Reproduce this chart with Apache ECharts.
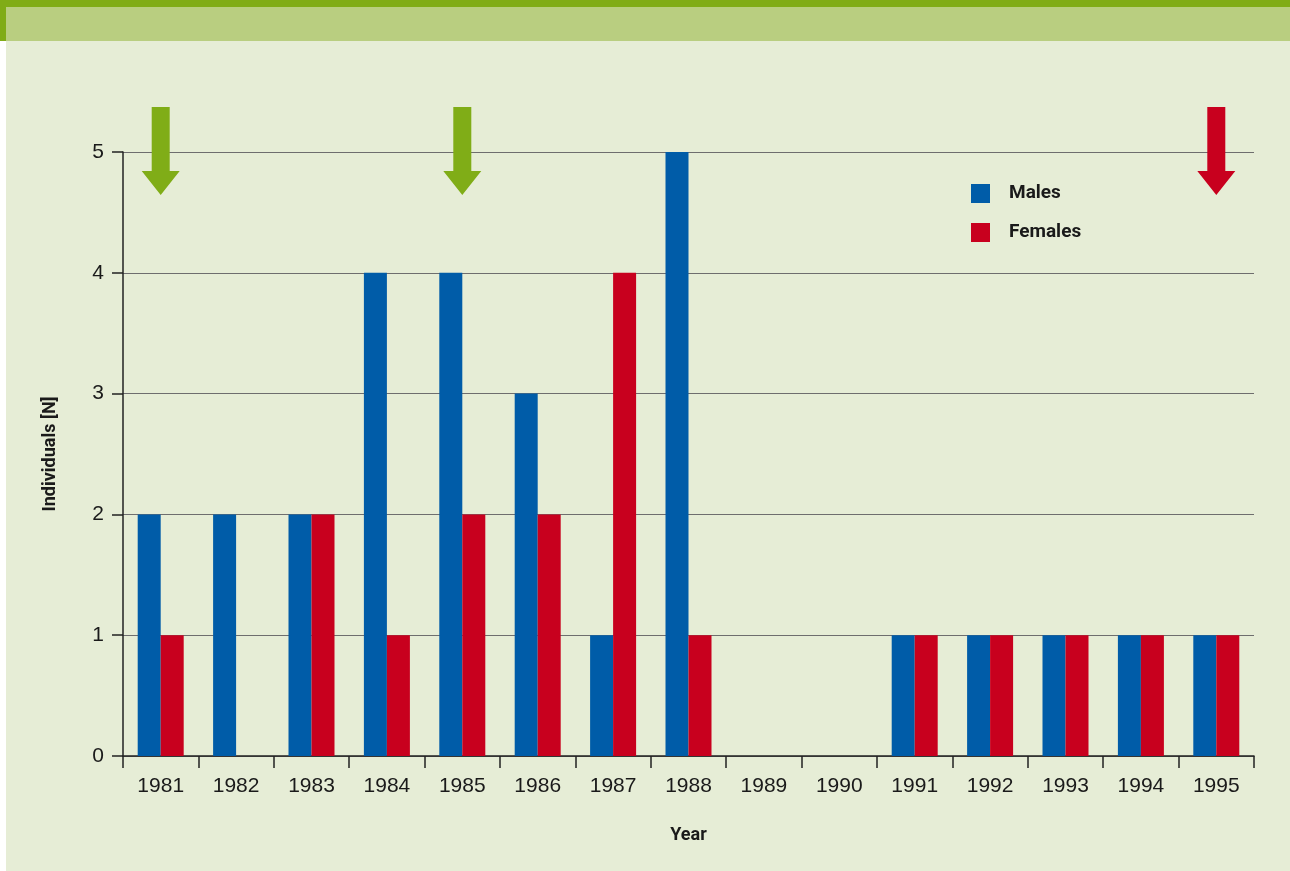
<!DOCTYPE html>
<html>
<head>
<meta charset="utf-8">
<style>
  html, body { margin: 0; padding: 0; background: #ffffff; }
  #chart { width: 1290px; height: 871px; }
</style>
<script src="https://cdn.jsdelivr.net/npm/echarts@6/dist/echarts.min.js"></script>
</head>
<body>
<div id="chart"></div>
<script>
  // data
  const years = ['1981', '1982', '1983', '1984', '1985', '1986', '1987', '1988', '1989', '1990', '1991', '1992', '1993', '1994', '1995']
  const males = [2, 2, 2, 4, 4, 3, 1, 5, 0, 0, 1, 1, 1, 1, 1]
  const females = [1, 0, 2, 1, 2, 2, 4, 1, 0, 0, 1, 1, 1, 1, 1]
  // arrow markers above the plot (year, colour)
  const arrowYears = ['1981', '1985', '1995']
  const arrowColors = ['#80ad17', '#80ad17', '#c8001e']

  const font = '"Liberation Sans", Arial, sans-serif'
  const boldFont = 'Roboto, "Liberation Sans", sans-serif'
  const arrowPath = 'path://M10,0 H28 V64 H38 L19,88 L0,64 H10 Z'

  const chart = echarts.init(document.getElementById('chart'))

  chart.setOption({
    backgroundColor: '#e6edd6',
    animation: false,
    // header bands
    graphic: [
      { type: 'rect', left: 0, top: 0, shape: { width: 1290, height: 7 }, style: { fill: '#80ac16' } },
      { type: 'rect', left: 0, top: 0, shape: { width: 6, height: 41 }, style: { fill: '#80ac16' } },
      { type: 'rect', left: 6, top: 7, shape: { width: 1284, height: 34 }, style: { fill: '#b9ce80' } },
      { type: 'rect', left: 0, top: 41, shape: { width: 6, height: 830 }, style: { fill: '#ffffff' } }
    ],
    grid: { left: 123, right: 36, top: 152, bottom: 115 },
    legend: {
      data: ['Males', 'Females'],
      orient: 'vertical',
      left: 971,
      top: 184,
      padding: 0,
      itemWidth: 19,
      itemHeight: 19,
      itemGap: 20,
      icon: 'rect',
      textStyle: { fontFamily: boldFont, fontSize: 19, fontWeight: 'bold', color: '#1a1a1a', padding: [0, 0, 0, 14] }
    },
    xAxis: {
      type: 'category',
      data: years,
      name: 'Year',
      nameLocation: 'middle',
      nameGap: 70,
      nameTextStyle: { fontFamily: boldFont, fontSize: 18, fontWeight: 'bold', color: '#1a1a1a' },
      axisLine: { lineStyle: { color: '#222', width: 1.5 } },
      axisTick: { show: true, length: 12, lineStyle: { color: '#222', width: 1.5 } },
      axisLabel: { fontFamily: font, fontSize: 21, color: '#1a1a1a', margin: 20 }
    },
    yAxis: {
      type: 'value',
      min: 0,
      max: 5,
      interval: 1,
      name: 'Individuals [N]',
      nameLocation: 'middle',
      nameGap: 64,
      nameTextStyle: { fontFamily: boldFont, fontSize: 18, fontWeight: 'bold', color: '#1a1a1a' },
      axisLine: { show: true, lineStyle: { color: '#222', width: 1.5 } },
      axisTick: { show: true, length: 11, lineStyle: { color: '#222', width: 1.5 } },
      axisLabel: { fontFamily: font, fontSize: 21, color: '#1a1a1a', margin: 19 },
      splitLine: { lineStyle: { color: '#6e6e6e', width: 1.2 } }
    },
    series: [
      {
        name: 'Males',
        type: 'bar',
        data: males,
        barWidth: 23,
        barGap: '0%',
        itemStyle: { color: '#005ca8' }
      },
      {
        name: 'Females',
        type: 'bar',
        data: females,
        barWidth: 23,
        barGap: '0%',
        itemStyle: { color: '#c8001e' }
      },
      {
        name: 'arrows',
        type: 'scatter',
        clip: false,
        symbol: arrowPath,
        symbolSize: [38, 88],
        symbolOffset: [0, -1],
        silent: true,
        data: arrowYears.map((y, i) => ({ value: [y, 5], itemStyle: { color: arrowColors[i], opacity: 1 } })),
        z: 10
      }
    ]
  })
</script>
</body>
</html>
